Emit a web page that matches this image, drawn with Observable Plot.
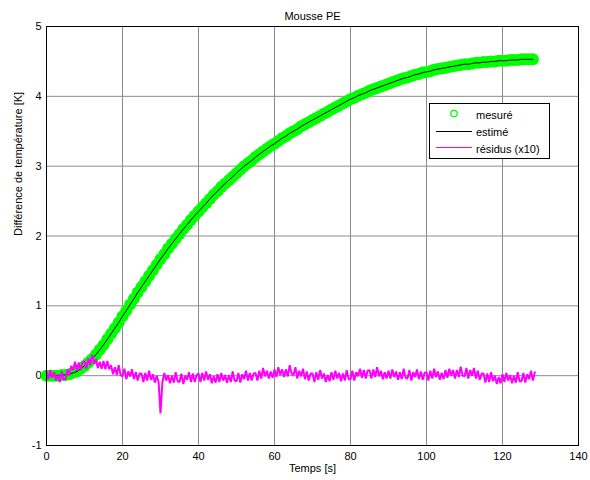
<!DOCTYPE html>
<html>
<head>
<meta charset="utf-8">
<script src="https://cdn.jsdelivr.net/npm/d3@7"></script>
<script src="https://cdn.jsdelivr.net/npm/@observablehq/plot@0.6"></script>
<style>
  html, body { margin: 0; padding: 0; background: #fff; }
  #chart svg { display: block; }
</style>
</head>
<body>
<div id="chart"></div>
<script>
// ---- data ----
const chartTitle = "Mousse PE";
const xLabel = "Temps [s]";
const yLabel = "Différence de température [K]";
const xTicks = [0, 20, 40, 60, 80, 100, 120, 140];
const yTicks = [-1, 0, 1, 2, 3, 4, 5];
const legendLabels = ["mesuré", "estimé", "résidus (x10)"];

// measured temperature difference, one sample per second from t = 0 s
const measuredStart = 0, measuredStep = 1;
const measuredValues = [
  0,0,0,0,0.01,0.01,0.02,0.04,0.06,0.10,
  0.14,0.19,0.24,0.30,0.37,0.44,0.52,0.60,0.68,0.76,
  0.85,0.93,1.02,1.10,1.19,1.27,1.35,1.43,1.51,1.59,
  1.67,1.74,1.82,1.89,1.96,2.03,2.10,2.16,2.23,2.29,
  2.35,2.41,2.47,2.53,2.59,2.64,2.70,2.75,2.80,2.85,
  2.90,2.95,3.00,3.04,3.08,3.13,3.17,3.21,3.25,3.29,
  3.32,3.36,3.40,3.43,3.47,3.50,3.53,3.57,3.60,3.63,
  3.66,3.69,3.72,3.75,3.78,3.81,3.84,3.87,3.90,3.93,
  3.96,3.98,4.01,4.03,4.05,4.08,4.10,4.12,4.14,4.16,
  4.18,4.20,4.22,4.24,4.26,4.27,4.29,4.31,4.32,4.34,
  4.35,4.36,4.38,4.39,4.40,4.41,4.42,4.43,4.44,4.45,
  4.46,4.46,4.47,4.48,4.48,4.49,4.49,4.50,4.50,4.51,
  4.51,4.51,4.52,4.52,4.52,4.53,4.53,4.53,4.53
];

// estimated (fitted) curve, same sampling
const estimatedValues = measuredValues.slice();

// residuals (x10), one sample every 0.5 s from t = 0 s
const residualStart = 0, residualStep = 0.5;
const residualValues = [
  0.06,-0.05,0.08,-0.03,0.05,-0.07,0.02,-0.09,0.06,-0.06,
  -0.05,0.09,0.0,0.14,0.08,0.2,0.07,0.19,0.08,0.19,
  0.21,0.1,0.25,0.15,0.3,0.17,0.24,0.11,0.2,0.1,
  0.21,0.09,0.21,0.09,0.15,0.02,0.12,0.01,0.15,0.01,
  -0.01,0.1,-0.05,0.06,-0.01,0.09,-0.05,0.05,-0.07,0.03,
  0.03,-0.09,0.04,-0.07,0.07,-0.06,0.02,-0.1,0.0,-0.09,
  -0.54,-0.09,0.04,-0.07,0.01,-0.11,0.0,-0.1,0.05,-0.08,
  -0.09,0.03,-0.12,0.0,-0.06,0.05,-0.09,0.03,-0.09,0.01,
  0.03,-0.09,0.04,-0.07,0.06,-0.06,0.02,-0.11,-0.01,-0.1,
  0.02,-0.09,0.04,-0.07,0.01,-0.1,0.01,-0.09,0.06,-0.07,
  -0.08,0.04,-0.1,0.02,-0.05,0.07,-0.07,0.04,-0.07,0.03,
  0.04,-0.07,0.07,-0.04,0.11,-0.01,0.07,-0.04,0.06,-0.03,
  0.09,-0.02,0.12,0.01,0.09,-0.02,0.09,-0.01,0.15,0.03,
  0.01,0.12,-0.04,0.07,-0.01,0.1,-0.05,0.06,-0.07,0.03,
  0.03,-0.09,0.05,-0.06,0.08,-0.04,0.03,-0.09,0.01,-0.08,
  0.05,-0.06,0.07,-0.04,0.04,-0.08,0.03,-0.07,0.08,-0.05,
  -0.05,0.07,-0.07,0.05,-0.01,0.1,-0.03,0.08,-0.04,0.07,
  0.08,-0.04,0.09,-0.02,0.12,-0.01,0.07,-0.05,0.05,-0.04,
  0.07,-0.04,0.09,-0.02,0.06,-0.06,0.05,-0.05,0.1,-0.03,
  -0.04,0.08,-0.07,0.05,-0.02,0.09,-0.05,0.06,-0.06,0.04,
  0.05,-0.07,0.07,-0.04,0.1,-0.02,0.06,-0.06,0.04,-0.05,
  0.08,-0.03,0.1,0.0,0.08,-0.04,0.08,-0.02,0.13,0.0,
  -0.01,0.11,-0.04,0.08,0.0,0.11,-0.04,0.07,-0.06,0.03,
  0.03,-0.1,0.03,-0.09,0.05,-0.08,0.0,-0.12,-0.02,-0.11,
  0.02,-0.09,0.04,-0.07,0.01,-0.11,0.0,-0.1,0.05,-0.08,
  -0.08,0.04,-0.1,0.02,-0.05,0.07,-0.07,0.05
];

// ---- build tables ----
const measured = measuredValues.map((v, i) => ({t: measuredStart + i * measuredStep, v}));
const estimated = estimatedValues.map((v, i) => ({t: measuredStart + i * measuredStep, v}));
const residuals = residualValues.map((v, i) => ({t: residualStart + i * residualStep, v}));

const GREEN = "#00ff00", MAGENTA = "#ff00ff", GRID = "#8c8c8c";
const FONT = "'Liberation Sans', Arial, Helvetica, sans-serif";

const plot = Plot.plot({
  width: 590,
  height: 480,
  marginLeft: 46,
  marginRight: 12,
  marginTop: 26,
  marginBottom: 35,
  style: {fontFamily: FONT, fontSize: "11px", background: "#fff", color: "#000"},
  x: {domain: [0, 140]},
  y: {domain: [-1, 5]},
  marks: [
    Plot.gridX({ticks: xTicks, stroke: GRID, strokeOpacity: 1, strokeWidth: 1}),
    Plot.gridY({ticks: yTicks, stroke: GRID, strokeOpacity: 1, strokeWidth: 1}),
    Plot.axisX({ticks: xTicks, tickSize: 0, tickPadding: 7, label: null, tickFormat: d => String(d), fontSize: 11}),
    Plot.axisY({ticks: yTicks, tickSize: 0, tickPadding: 5, label: null, tickFormat: d => String(d), fontSize: 11}),
    Plot.dot(measured, {x: "t", y: "v", r: 6, stroke: "none", fill: GREEN}),
    Plot.line(estimated, {x: "t", y: "v", stroke: "#000", strokeWidth: 1, curve: "monotone-x"}),
    Plot.line(residuals, {x: "t", y: "v", stroke: MAGENTA, strokeWidth: 2, strokeLinejoin: "miter"}),
    Plot.frame({stroke: "#000", strokeWidth: 1}),
    Plot.text([chartTitle], {frameAnchor: "top", dy: -14, fontSize: 11, fill: "#000"}),
    Plot.text([xLabel], {frameAnchor: "bottom", dy: 26, fontSize: 11, fill: "#000"}),
    Plot.text([yLabel], {frameAnchor: "left", dx: -28, rotate: -90, fontSize: 11, fill: "#000"})
  ]
});

document.getElementById("chart").appendChild(plot);

// ---- legend (inside axes, top right) ----
const svg = d3.select(plot);
const lg = svg.append("g").attr("font-family", FONT).attr("font-size", 11).attr("text-anchor", "start");
lg.append("rect").attr("x", 429.5).attr("y", 103.5).attr("width", 120).attr("height", 55)
  .attr("fill", "#fff").attr("stroke", "#000").attr("stroke-width", 1);
const rows = [115, 132, 149];
lg.append("circle").attr("cx", 454).attr("cy", rows[0] - 1.5).attr("r", 3.2)
  .attr("fill", "none").attr("stroke", GREEN).attr("stroke-width", 1.3);
lg.append("line").attr("x1", 436).attr("x2", 472).attr("y1", rows[1] - 0.5).attr("y2", rows[1] - 0.5)
  .attr("stroke", "#000").attr("stroke-width", 1);
lg.append("line").attr("x1", 436).attr("x2", 472).attr("y1", rows[2] - 1.5).attr("y2", rows[2] - 1.5)
  .attr("stroke", MAGENTA).attr("stroke-width", 1);
legendLabels.forEach((lab, i) => {
  lg.append("text").attr("x", 476).attr("y", rows[i]).attr("dy", "0.32em")
    .attr("text-anchor", "start").attr("fill", "#000").text(lab);
});
</script>
</body>
</html>
